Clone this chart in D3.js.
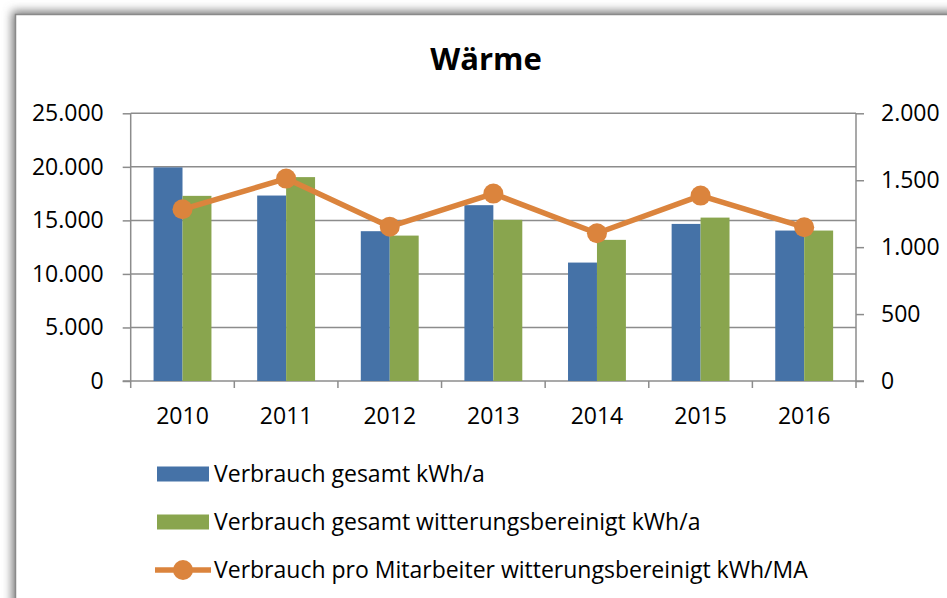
<!DOCTYPE html>
<html>
<head>
<meta charset="utf-8">
<script src="https://cdn.jsdelivr.net/npm/d3@7"></script>
<style>
  html, body { margin: 0; padding: 0; background: #fff; }
  svg { display: block; font-family: "Open Sans", "Noto Sans", sans-serif; }
</style>
</head>
<body>
<svg id="chart" width="947" height="598"></svg>
<script>
const years = ['2010', '2011', '2012', '2013', '2014', '2015', '2016'];
const verbrauchGesamt = [19950, 17320, 13990, 16420, 11060, 14670, 14050];
const verbrauchBereinigt = [17290, 19040, 13580, 15050, 13180, 15260, 14050];
const verbrauchProMA = [1283, 1512, 1153, 1400, 1104, 1385, 1149];
const leftTicks = [0, 5000, 10000, 15000, 20000, 25000];
const rightTicks = [0, 500, 1000, 1500, 2000];
const legendLabels = [
    'Verbrauch gesamt kWh/a',
    'Verbrauch gesamt witterungsbereinigt kWh/a',
    'Verbrauch pro Mitarbeiter witterungsbereinigt kWh/MA'
];

const colors = { blue: '#4572a7', green: '#89a54e', orange: '#db843d', grid: '#8c8c8c' };
const fmt = d3.formatLocale({ decimal: ',', thousands: '.', grouping: [3], currency: ['', '€'] }).format(',.0f');
const fontSize = '23px';

const svg = d3.select('#chart');
const width = 947, height = 598;
const plot = { left: 130.7, right: 856, top: 113.3, bottom: 381 };

// frame with soft shadow
const defs = svg.append('defs');
defs.append('filter').attr('id', 'shadow')
    .attr('x', '-10%').attr('y', '-10%').attr('width', '120%').attr('height', '120%')
    .append('feGaussianBlur').attr('stdDeviation', 5);

svg.append('rect')
    .attr('x', 12).attr('y', 11)
    .attr('width', width + 40).attr('height', height + 40)
    .attr('fill', '#7a7a7a')
    .attr('filter', 'url(#shadow)');
svg.append('rect')
    .attr('x', 15.5).attr('y', 14.5)
    .attr('width', width + 40).attr('height', height + 40)
    .attr('fill', '#fff')
    .attr('stroke', '#8a8a8a')
    .attr('stroke-width', 1.5);

const x = d3.scaleBand().domain(years).range([plot.left, plot.right]);
const xSub = d3.scaleBand().domain(['gesamt', 'bereinigt']).range([0, x.bandwidth()]).paddingOuter(0.79);
const yLeft = d3.scaleLinear().domain([0, 25000]).range([plot.bottom, plot.top]);
const yRight = d3.scaleLinear().domain([0, 2000]).range([plot.bottom, plot.top]);

// gridlines
svg.append('g')
    .selectAll('line')
    .data(leftTicks.filter((d) => d > 0))
    .join('line')
    .attr('x1', plot.left).attr('x2', plot.right)
    .attr('y1', (d) => yLeft(d)).attr('y2', (d) => yLeft(d))
    .attr('stroke', colors.grid)
    .attr('stroke-width', 1.5);

// left axis
const leftAxis = svg.append('g')
    .attr('transform', `translate(${plot.left},0)`)
    .call(d3.axisLeft(yLeft).tickValues(leftTicks).tickFormat(fmt).tickSize(8).tickPadding(19));

// right axis
const rightAxis = svg.append('g')
    .attr('transform', `translate(${plot.right},0)`)
    .call(d3.axisRight(yRight).tickValues(rightTicks).tickFormat(fmt).tickSize(8).tickPadding(17));

// bottom axis: ticks at category boundaries
const bottomAxis = svg.append('g')
    .attr('transform', `translate(0,${plot.bottom})`)
    .call(d3.axisBottom(x).tickSize(0).tickPadding(27));

svg.append('g')
    .selectAll('line')
    .data(years.concat(['end']))
    .join('line')
    .attr('x1', (d, i) => i < years.length ? x(d) : plot.right)
    .attr('x2', (d, i) => i < years.length ? x(d) : plot.right)
    .attr('y1', plot.bottom).attr('y2', plot.bottom + 7)
    .attr('stroke', colors.grid)
    .attr('stroke-width', 1.5);

[leftAxis, rightAxis, bottomAxis].forEach((g) => {
    g.select('.domain').attr('stroke', colors.grid).attr('stroke-width', 1.5);
    g.selectAll('.tick line').attr('stroke', colors.grid).attr('stroke-width', 1.5);
    g.selectAll('.tick text').attr('fill', '#000').style('font-size', fontSize).style('font-family', '"Open Sans", sans-serif');
});
leftAxis.select('.domain').attr('d', `M0,${plot.top}V${plot.bottom}`);
rightAxis.select('.domain').attr('d', `M0,${plot.top}V${plot.bottom}`);
bottomAxis.select('.domain').attr('d', `M${plot.left - 8},0H${plot.right + 8}`);

// bars
const bars = svg.append('g');
bars.selectAll('.gesamt')
    .data(years)
    .join('rect')
    .attr('x', (d) => x(d) + xSub('gesamt'))
    .attr('y', (d, i) => yLeft(verbrauchGesamt[i]))
    .attr('width', xSub.bandwidth())
    .attr('height', (d, i) => plot.bottom - yLeft(verbrauchGesamt[i]))
    .attr('fill', colors.blue);
bars.selectAll('.bereinigt')
    .data(years)
    .join('rect')
    .attr('x', (d) => x(d) + xSub('bereinigt'))
    .attr('y', (d, i) => yLeft(verbrauchBereinigt[i]))
    .attr('width', xSub.bandwidth())
    .attr('height', (d, i) => plot.bottom - yLeft(verbrauchBereinigt[i]))
    .attr('fill', colors.green);

// line
const cx = (d) => x(d) + x.bandwidth() / 2;
const line = d3.line()
    .x((d) => cx(d))
    .y((d, i) => yRight(verbrauchProMA[i]));
svg.append('path')
    .datum(years)
    .attr('d', line)
    .attr('fill', 'none')
    .attr('stroke', colors.orange)
    .attr('stroke-width', 5.5)
    .attr('stroke-linejoin', 'round');
svg.append('g')
    .selectAll('circle')
    .data(years)
    .join('circle')
    .attr('cx', (d) => cx(d))
    .attr('cy', (d, i) => yRight(verbrauchProMA[i]))
    .attr('r', 10)
    .attr('fill', colors.orange);

// title
svg.append('text')
    .attr('x', 486).attr('y', 70)
    .attr('text-anchor', 'middle')
    .style('font-size', '31px')
    .style('font-weight', 'bold')
    .text('Wärme');

// legend
const legend = svg.append('g');
const rowY = [474, 522, 570];
legend.append('rect').attr('x', 157).attr('y', rowY[0] - 7.5).attr('width', 52).attr('height', 15).attr('fill', colors.blue);
legend.append('rect').attr('x', 157).attr('y', rowY[1] - 7.5).attr('width', 52).attr('height', 15).attr('fill', colors.green);
legend.append('line').attr('x1', 155).attr('x2', 211).attr('y1', rowY[2]).attr('y2', rowY[2])
    .attr('stroke', colors.orange).attr('stroke-width', 5.5);
legend.append('circle').attr('cx', 183).attr('cy', rowY[2]).attr('r', 10).attr('fill', colors.orange);
legend.selectAll('text')
    .data(legendLabels)
    .join('text')
    .attr('x', 214)
    .attr('y', (d, i) => rowY[i] + 7.5)
    .style('font-size', fontSize)
    .text((d) => d);
</script>
</body>
</html>
